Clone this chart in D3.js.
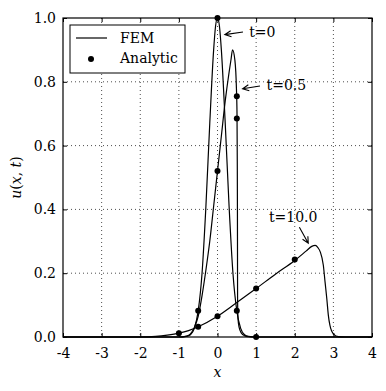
<!DOCTYPE html>
<html>
<head>
<meta charset="utf-8">
<script src="https://cdn.jsdelivr.net/npm/d3@7"></script>
<style>
body { margin: 0; background: #fff; }
text { font-family: "DejaVu Serif", serif; font-size: 14px; fill: #000; }
.grid line { stroke: #000; stroke-width: 0.7; stroke-dasharray: 1,3; }
.curve { fill: none; stroke: #000; stroke-width: 1.2; }
</style>
</head>
<body>
<script>
var xTicks = [-4, -3, -2, -1, 0, 1, 2, 3, 4];
var yTicks = [0, 0.2, 0.4, 0.6, 0.8, 1.0];

// FEM solution, [x, u]
var femT0 = [[-4,0],[-1,0],[-0.8,0.002],[-0.7,0.007],[-0.6,0.027],[-0.5,0.082],[-0.4,0.2],[-0.3,0.41],
    [-0.2,0.67],[-0.1,0.9],[-0.05,0.975],[0,1.0],[0.05,0.975],[0.1,0.9],[0.2,0.67],[0.3,0.41],[0.4,0.2],
    [0.5,0.082],[0.6,0.027],[0.7,0.007],[0.8,0.002],[1,0],[4,0]];
var femT05 = [[-4,0],[-1,0],[-0.8,0.003],[-0.7,0.01],[-0.6,0.03],[-0.5,0.065],[-0.4,0.13],[-0.3,0.21],
    [-0.2,0.3],[-0.1,0.41],[0,0.52],[0.1,0.63],[0.2,0.74],[0.3,0.83],[0.35,0.87],[0.39,0.9],[0.45,0.868],
    [0.49,0.78],[0.505,0.7],[0.512,0.55],[0.516,0.4],[0.518,0.25],[0.52,0.12],[0.53,0.06],[0.56,0.03],
    [0.62,0.012],[0.7,0.004],[0.8,0.001],[1,0],[4,0]];
var femT10 = [[-4,0],[-2,0],[-1.6,0.002],[-1.3,0.006],[-1,0.012],[-0.75,0.02],[-0.5,0.032],[0,0.065],
    [0.5,0.108],[1,0.152],[1.5,0.197],[2,0.24],[2.3,0.27],[2.44,0.284],[2.53,0.287],[2.6,0.28],[2.66,0.267],
    [2.74,0.225],[2.785,0.172],[2.83,0.12],[2.87,0.068],[2.91,0.037],[3.0,0.01],[3.13,0.001],[3.3,0],[4,0]];

// analytic points
var exactT0 = [[-0.5,0.082],[0,1.0],[0.5,0.082],[1,0]];
var exactT05 = [[0,0.52],[0.5,0.755],[0.5,0.685]];
var exactT10 = [[-1,0.012],[-0.5,0.032],[0,0.065],[1,0.152],[2,0.243]];

var seriesNames = ["FEM", "Analytic"];

var loadGraph = function(){
    var left = 63, top = 18, right = 372, bottom = 337;
    var xScale = d3.scaleLinear().domain([-4, 4]).range([left, right]);
    var yScale = d3.scaleLinear().domain([0, 1]).range([bottom, top]);

    var svg = d3.select("body").append("svg")
        .attr("width", 386)
        .attr("height", 391);

    // grid
    var grid = svg.append("g").classed("grid", true);
    grid.selectAll(".gx").data(xTicks.slice(1, -1)).enter().append("line")
        .attr("x1", xScale).attr("x2", xScale)
        .attr("y1", top).attr("y2", bottom);
    grid.selectAll(".gy").data(yTicks.slice(1, -1)).enter().append("line")
        .attr("y1", yScale).attr("y2", yScale)
        .attr("x1", left).attr("x2", right);

    // curves
    var line = d3.line()
        .x(function(d){ return xScale(d[0]); })
        .y(function(d){ return yScale(d[1]); })
        .curve(d3.curveMonotoneX);
    [femT0, femT05, femT10].forEach(function(s){
        svg.append("path").datum(s).classed("curve", true).attr("d", line);
    });

    var pts = exactT0.concat(exactT05, exactT10);
    svg.append("g").selectAll("circle").data(pts).enter().append("circle")
        .attr("cx", function(d){ return xScale(d[0]); })
        .attr("cy", function(d){ return yScale(d[1]); })
        .attr("r", 3)
        .attr("fill", "#000");

    // axes, ticks pointing inward on all sides
    var fmt = function(d){ return d.toFixed(1); };
    var xb = svg.append("g").attr("transform", "translate(0," + bottom + ")")
        .call(d3.axisBottom(xScale).tickValues(xTicks).tickSizeInner(-4).tickSizeOuter(0).tickPadding(10).tickFormat(function(d){ return String(d); }));
    var yl = svg.append("g").attr("transform", "translate(" + left + ",0)")
        .call(d3.axisLeft(yScale).tickValues(yTicks).tickSizeInner(-4).tickSizeOuter(0).tickPadding(7).tickFormat(fmt));
    svg.append("g").attr("transform", "translate(0," + top + ")")
        .call(d3.axisTop(xScale).tickValues(xTicks).tickSizeInner(-4).tickSizeOuter(0).tickFormat(""));
    svg.append("g").attr("transform", "translate(" + right + ",0)")
        .call(d3.axisRight(yScale).tickValues(yTicks).tickSizeInner(-4).tickSizeOuter(0).tickFormat(""));
    svg.selectAll(".domain").remove();
    svg.selectAll(".tick line").attr("stroke", "#000").attr("stroke-width", 1);
    svg.selectAll(".tick text").style("font-family", "DejaVu Serif").style("font-size", "14px").attr("fill", "#000");
    xb.selectAll(".tick text").attr("dy", "0.75em");

    svg.append("rect")
        .attr("x", left).attr("y", top)
        .attr("width", right - left).attr("height", bottom - top)
        .attr("fill", "none").attr("stroke", "#000").attr("stroke-width", 1.2);

    // axis labels
    svg.append("text").attr("x", xScale(0)).attr("y", 377)
        .attr("text-anchor", "middle").style("font-style", "italic").text("x");
    var yt = svg.append("text")
        .attr("transform", "translate(21," + yScale(0.5) + ") rotate(-90)")
        .attr("text-anchor", "middle");
    yt.append("tspan").style("font-style", "italic").text("u");
    yt.append("tspan").text("(");
    yt.append("tspan").style("font-style", "italic").text("x");
    yt.append("tspan").text(", ");
    yt.append("tspan").style("font-style", "italic").text("t");
    yt.append("tspan").text(")");

    // annotations
    var notes = [
        {label: "t=0", tx: 0.82, ty: 0.94, from: [0.66, 0.956], to: [0.19, 0.948], anchor: "start"},
        {label: "t=0.5", tx: 1.27, ty: 0.774, from: [1.1, 0.787], to: [0.65, 0.778], anchor: "start"},
        {label: "t=10.0", tx: 1.96, ty: 0.3615, from: [2.12, 0.344], to: [2.35, 0.294], anchor: "middle"}
    ];
    notes.forEach(function(n){
        svg.append("text").attr("x", xScale(n.tx)).attr("y", yScale(n.ty))
            .attr("text-anchor", n.anchor).text(n.label);
        var x1 = xScale(n.from[0]), y1 = yScale(n.from[1]);
        var x2 = xScale(n.to[0]), y2 = yScale(n.to[1]);
        var a = Math.atan2(y1 - y2, x1 - x2), hl = 7, hw = 0.45;
        svg.append("path")
            .attr("d", "M" + x1 + "," + y1 + "L" + x2 + "," + y2 +
                "M" + (x2 + hl * Math.cos(a + hw)) + "," + (y2 + hl * Math.sin(a + hw)) +
                "L" + x2 + "," + y2 +
                "L" + (x2 + hl * Math.cos(a - hw)) + "," + (y2 + hl * Math.sin(a - hw)))
            .attr("fill", "none").attr("stroke", "#000").attr("stroke-width", 1.1);
    });

    // legend
    var lg = svg.append("g");
    lg.append("rect").attr("x", 70).attr("y", 25).attr("width", 115).attr("height", 48)
        .attr("fill", "#fff").attr("stroke", "#000").attr("stroke-width", 1);
    lg.append("line").attr("x1", 76).attr("x2", 107).attr("y1", 38).attr("y2", 38)
        .attr("stroke", "#000").attr("stroke-width", 1.2);
    lg.append("circle").attr("cx", 91).attr("cy", 59).attr("r", 3).attr("fill", "#000");
    lg.selectAll(".lt").data(seriesNames).enter().append("text")
        .attr("x", 120)
        .attr("y", function(d, i){ return 43 + i * 20; })
        .text(function(d){ return d; });
}

window.onload = loadGraph;
</script>
</body>
</html>
